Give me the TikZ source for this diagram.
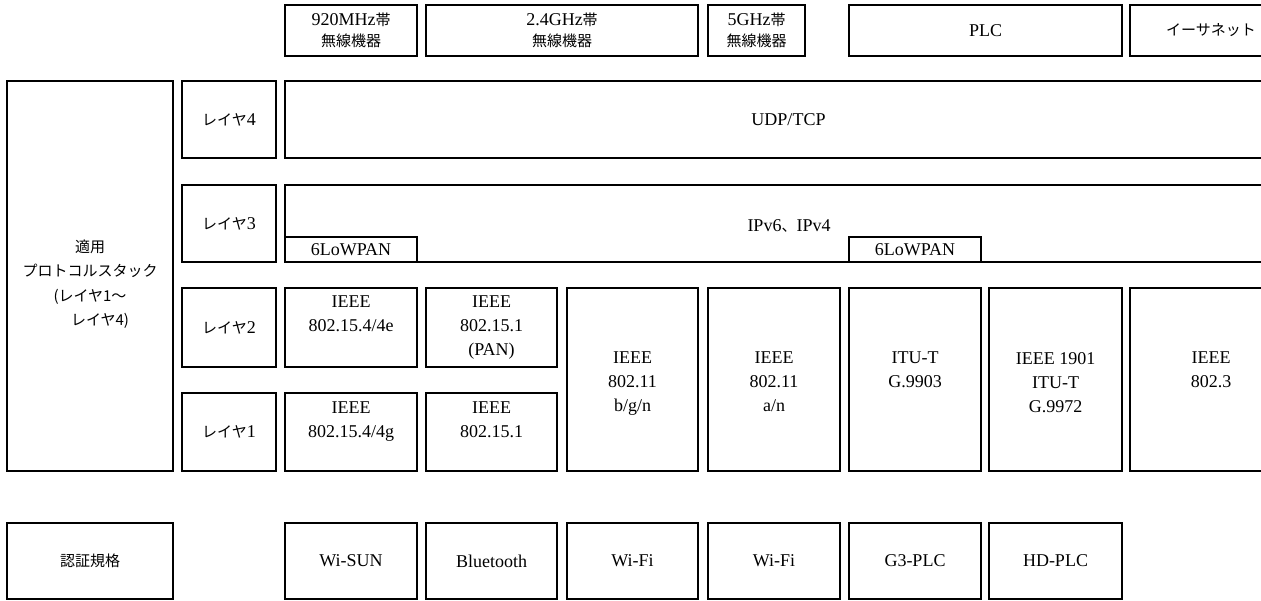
\documentclass[tikz,border=0pt]{standalone}
\usepackage{fontspec}
\setmainfont{Liberation Serif}
\newfontfamily\jp{Noto Sans CJK JP}
\newcommand\J[1]{{\jp\fontsize{15}{21}\selectfont #1}}
\newcommand\rb[7][]{\node[bx,#1,minimum width={(#5-#3)*1pt},minimum height={(#6-#4)*1pt}] (#2) at ({(#3+#5)/2},{(#4+#6)/2}) {#7};}
\begin{document}
\begin{tikzpicture}[x=1pt,y=-1pt,
  bx/.style={draw, line width=2.4pt, inner sep=0pt, outer sep=0pt, align=center, font=\fontsize{18}{24}\selectfont},
  hd/.style={font=\fontsize{18}{21}\selectfont},
  tx/.style={inner sep=0pt, align=center, font=\fontsize{18}{24}\selectfont},
  jx/.style={inner sep=0pt, align=center, font=\jp\fontsize{15}{24.5}\selectfont}]
\useasboundingbox (0,0) rectangle (1261,601);
% header row
\rb[hd]{h1}{285}{5}{417}{56}{920MHz\J{帯}\\\J{無線機器}}
\rb[hd]{h2}{426}{5}{698}{56}{2.4GHz\J{帯}\\\J{無線機器}}
\rb[hd]{h3}{708}{5}{805}{56}{5GHz\J{帯}\\\J{無線機器}}
\rb[hd]{h4}{849}{5}{1122}{56}{PLC}
\rb[hd]{h5}{1130}{5}{1292}{56}{\J{イーサネット}}
% left column
\rb{stack}{7}{81}{173}{471}{}
\node[jx] (stacktxt) at (90,284) {適用\\プロトコルスタック\\(レイヤ1～\\\hspace*{20pt}レイヤ4)};
\rb{l4}{182}{81}{276}{158}{\J{レイヤ}4}
\rb{l3}{182}{185}{276}{262}{\J{レイヤ}3}
\rb{l2}{182}{288}{276}{367}{\J{レイヤ}2}
\rb{l1}{182}{393}{276}{471}{\J{レイヤ}1}
% layer 4 and 3
\rb{udp}{285}{81}{1292}{158}{UDP/TCP}
\rb{ip}{285}{185}{1292}{262}{}
\node[tx] (iptxt) at (789,226) {IPv6\J{、}IPv4};
\rb{low1}{285}{237}{417}{262}{6LoWPAN}
\rb{low2}{849}{237}{981}{262}{6LoWPAN}
% layer 2 and 1
\rb{a1}{285}{288}{417}{367}{}
\rb{a2}{426}{288}{557}{367}{}
\rb{b1}{285}{393}{417}{471}{}
\rb{b2}{426}{393}{557}{471}{}
\node[tx,anchor=north] (a1t) at (351,296) {IEEE\\802.15.4/4e};
\node[tx,anchor=north] (a2t) at (491.5,296) {IEEE\\802.15.1\\(PAN)};
\node[tx,anchor=north] (b1t) at (351,402) {IEEE\\802.15.4/4g};
\node[tx,anchor=north] (b2t) at (491.5,402) {IEEE\\802.15.1};
\rb{t1}{567}{288}{698}{471}{}
\rb{t2}{708}{288}{840}{471}{}
\rb{t3}{849}{288}{981}{471}{}
\rb{t4}{989}{288}{1122}{471}{}
\rb{t5}{1130}{288}{1292}{471}{}
\node[tx,anchor=north] (t1t) at (632.5,352) {IEEE\\802.11\\b/g/n};
\node[tx,anchor=north] (t2t) at (774,352) {IEEE\\802.11\\a/n};
\node[tx,anchor=north] (t3t) at (915,352) {ITU-T\\G.9903};
\node[tx,anchor=north] (t4t) at (1055.5,352) {IEEE 1901\\ITU-T\\G.9972};
\node[tx,anchor=north] (t5t) at (1211,352) {IEEE\\802.3};
% certification row
\rb{c0}{7}{523}{173}{599}{\J{認証規格}}
\rb{c1}{285}{523}{417}{599}{Wi-SUN}
\rb{c2}{426}{523}{557}{599}{Bluetooth}
\rb{c3}{567}{523}{698}{599}{Wi-Fi}
\rb{c4}{708}{523}{840}{599}{Wi-Fi}
\rb{c5}{849}{523}{981}{599}{G3-PLC}
\rb{c6}{989}{523}{1122}{599}{HD-PLC}
\end{tikzpicture}
\end{document}
